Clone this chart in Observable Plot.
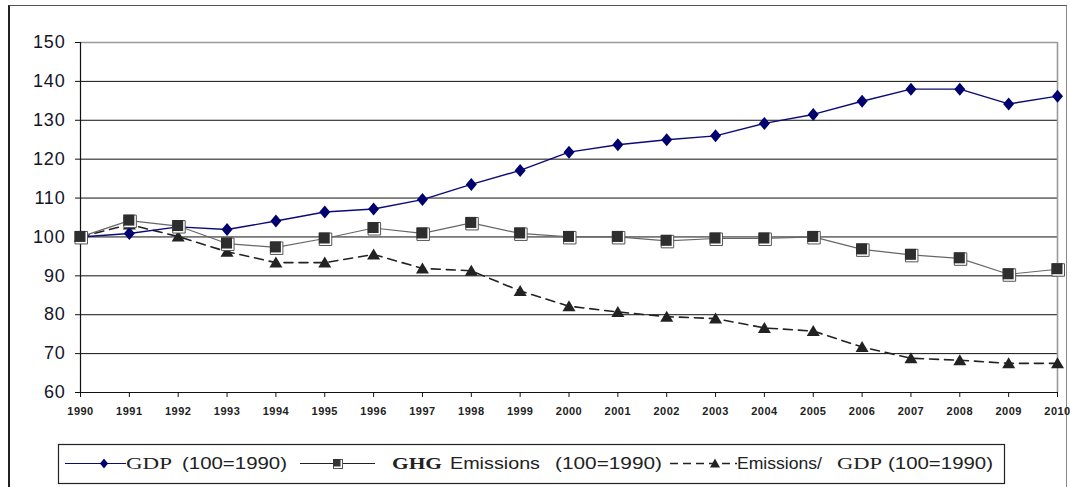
<!DOCTYPE html>
<html>
<head>
<meta charset="utf-8">
<script src="https://cdn.jsdelivr.net/npm/d3@7"></script>
<script src="https://cdn.jsdelivr.net/npm/@observablehq/plot@0.6"></script>
<style>
  html, body { margin: 0; padding: 0; background: #fff; }
  body { width: 1070px; height: 487px; position: relative; overflow: hidden; }
  #frame {
    position: absolute; left: 8px; top: 5px; width: 1059px; height: 520px;
    border-top: 1.5px solid #555; border-right: 1.5px solid #888;
    border-left: 2px solid #222; box-sizing: border-box;
  }
  #chart { position: absolute; left: 0; top: 0; }
  #legend { position: absolute; left: 0; top: 430px; }
</style>
</head>
<body>
<div id="frame"></div>
<div id="chart"></div>
<div id="legend"></div>
<script>
// Index values, 1990 = 100
const years = [1990, 1991, 1992, 1993, 1994, 1995, 1996, 1997, 1998, 1999, 2000,
               2001, 2002, 2003, 2004, 2005, 2006, 2007, 2008, 2009, 2010];
const gdp   = [100, 100.9, 102.6, 101.9, 104.1, 106.4, 107.2, 109.6, 113.5, 117.1, 121.8,
               123.7, 125.0, 126.0, 129.2, 131.5, 134.9, 138.0, 138.0, 134.2, 136.2];
const ghg   = [100, 104.2, 102.8, 98.3, 97.3, 99.6, 102.3, 100.9, 103.6, 100.9, 100.0,
               100.0, 99.0, 99.6, 99.6, 100.0, 96.8, 95.4, 94.5, 90.4, 91.7];
const ratio = [100, 103.2, 100.1, 96.2, 93.4, 93.4, 95.5, 91.9, 91.3, 86.1, 82.2,
               80.7, 79.5, 79.0, 76.6, 75.8, 71.7, 68.8, 68.3, 67.5, 67.5];
const yTicks = [60, 70, 80, 90, 100, 110, 120, 130, 140, 150];
const gridLines = [70, 80, 90, 100, 110, 120, 130, 140];

const seriesNames = ["GDP", "GHG Emissions", "Emissions/GDP"];

const rows = years.map((year, i) => ({year, gdp: gdp[i], ghg: ghg[i], ratio: ratio[i]}));

// marker shapes
const diamond = {draw(ctx) { ctx.moveTo(0, -6.5); ctx.lineTo(5.5, 0); ctx.lineTo(0, 6.5); ctx.lineTo(-5.5, 0); ctx.closePath(); }};
const squareOuter = {draw(ctx) { ctx.rect(-5.5, -5.5, 12.5, 12.5); }};
const squareInner = {draw(ctx) { ctx.rect(-6, -6, 11, 11); }};
const triangle = {draw(ctx) { ctx.moveTo(0, -6); ctx.lineTo(6.5, 5); ctx.lineTo(-6.5, 5); ctx.closePath(); }};

const chart = Plot.plot({
  width: 1070,
  height: 430,
  marginLeft: 80,
  marginRight: 13,
  marginTop: 42,
  marginBottom: 38,
  style: {background: "transparent", fontFamily: "'Liberation Sans', Arial, sans-serif", color: "#111", overflow: "visible"},
  x: {domain: [1990, 2010], label: null},
  y: {domain: [60, 150], label: null},
  marks: [
    Plot.ruleY(gridLines, {stroke: "#111", strokeWidth: 1}),
    Plot.ruleY([150], {stroke: "#9a9a9a", strokeWidth: 1.6}),
    Plot.ruleX([2010], {stroke: "#9a9a9a", strokeWidth: 1.6}),
    Plot.axisX({ticks: years, tickFormat: d => String(d), tickSize: 5, tickPadding: 10, stroke: "#111"}),
    Plot.axisY({ticks: yTicks, tickSize: 5, tickPadding: 10, stroke: "#111"}),
    Plot.ruleX([1990], {stroke: "#111", strokeWidth: 1.2}),
    Plot.ruleY([60], {stroke: "#111", strokeWidth: 1.2}),

    Plot.line(rows, {x: "year", y: "ratio", stroke: "#222", strokeWidth: 1.6, strokeDasharray: "9,6"}),
    Plot.line(rows, {x: "year", y: "gdp", stroke: "#0a0a78", strokeWidth: 1.4}),
    Plot.line(rows, {x: "year", y: "ghg", stroke: "#666", strokeWidth: 1.2}),

    Plot.dot(rows, {x: "year", y: "ratio", symbol: triangle, r: 5, fill: "#222", stroke: "none"}),
    Plot.dot(rows, {x: "year", y: "gdp", symbol: diamond, r: 5, fill: "#00006e", stroke: "none"}),
    Plot.dot(rows, {x: "year", y: "ghg", symbol: squareOuter, r: 5, fill: "#fff", stroke: "#555", strokeWidth: 1}),
    Plot.dot(rows, {x: "year", y: "ghg", symbol: squareInner, r: 5, fill: "#2e2e2e", stroke: "none"})
  ]
});
document.getElementById("chart").append(chart);

// tick label typography
const svg = d3.select(chart);
svg.selectAll("g[aria-label='x-axis tick label'] text")
  .attr("font-size", 11).attr("font-weight", "bold").attr("letter-spacing", 0.5).attr("fill", "#222");
svg.selectAll("g[aria-label='y-axis tick label'] text")
  .attr("font-size", 18).attr("letter-spacing", 0.8).attr("fill", "#141428");

// legend below the chart
const L = d3.select("#legend").append("svg")
  .attr("width", 1070).attr("height", 57)
  .style("font-family", "'Liberation Sans', Arial, sans-serif");
L.append("rect").attr("x", 58.5).attr("y", 14.5).attr("width", 946).attr("height", 39)
  .attr("fill", "#fff").attr("stroke", "#222").attr("stroke-width", 1.2);
const cy = 33.5;
// GDP
L.append("line").attr("x1", 65).attr("x2", 126).attr("y1", cy).attr("y2", cy).attr("stroke", "#0a0a78").attr("stroke-width", 1.2);
L.append("path").attr("d", `M104,${cy-5}L108,${cy}L104,${cy+5}L100,${cy}Z`).attr("fill", "#00006e");
// GHG
L.append("line").attr("x1", 300).attr("x2", 375).attr("y1", cy).attr("y2", cy).attr("stroke", "#222").attr("stroke-width", 1.2);
L.append("rect").attr("x", 333.5).attr("y", cy - 4).attr("width", 9).attr("height", 9).attr("fill", "#fff").attr("stroke", "#555");
L.append("rect").attr("x", 333).attr("y", cy - 4.5).attr("width", 7.5).attr("height", 7.5).attr("fill", "#333");
// Emissions/GDP
L.append("line").attr("x1", 670).attr("x2", 737).attr("y1", cy).attr("y2", cy).attr("stroke", "#222").attr("stroke-width", 1.3).attr("stroke-dasharray", "8,5");
L.append("path").attr("d", `M715,${cy-5}L720,${cy+4}L710,${cy+4}Z`).attr("fill", "#222");

const serif = "'Liberation Serif', 'Times New Roman', serif";
const texts = [
  {t: "GDP", x: 126, w: 46, f: serif, b: false},
  {t: "(100=1990)", x: 182, w: 105, f: null, b: false},
  {t: "GHG", x: 392, w: 50, f: serif, b: true},
  {t: "Emissions", x: 450, w: 90, f: null, b: false},
  {t: "(100=1990)", x: 555, w: 107, f: null, b: false},
  {t: "Emissions/", x: 737, w: 85, f: null, b: false},
  {t: "GDP", x: 837, w: 45, f: serif, b: false},
  {t: "(100=1990)", x: 888, w: 105, f: null, b: false}
];
for (const d of texts) {
  const el = L.append("text").attr("x", d.x).attr("y", 38.5).attr("font-size", 17)
    .attr("fill", "#222").attr("textLength", d.w).attr("lengthAdjust", "spacingAndGlyphs").text(d.t);
  if (d.f) el.attr("font-family", d.f);
  if (d.b) el.attr("font-weight", "bold");
}
</script>
</body>
</html>
